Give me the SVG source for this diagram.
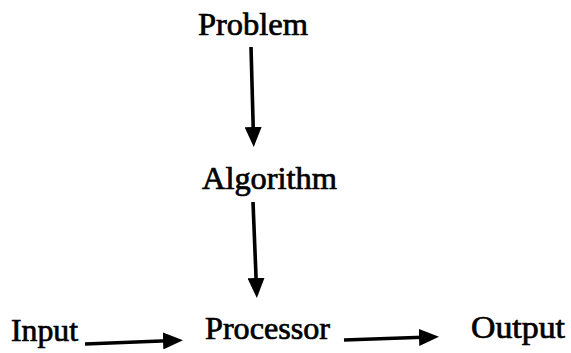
<svg xmlns="http://www.w3.org/2000/svg" width="571" height="353" viewBox="0 0 571 353">
<style>
.lbl{font-family:"Liberation Serif","Times New Roman",serif;font-size:31px;fill:#000;stroke:#000;stroke-width:0.7px}
.edge{stroke:#000;stroke-width:3.6;fill:none;stroke-linecap:butt}
</style>
<defs>
<marker id="ah" viewBox="0 0 20 17" refX="11" refY="8.5" markerWidth="20" markerHeight="17" markerUnits="userSpaceOnUse" orient="auto">
<path d="M0,0 L20,8.5 L0,17 z" fill="#000"/>
</marker>
</defs>
<rect width="571" height="353" fill="#fff"/>
<g id="connectors">
<line class="edge" x1="251" y1="47" x2="253.5" y2="138" marker-end="url(#ah)"/>
<line class="edge" x1="253" y1="202" x2="256.5" y2="289" marker-end="url(#ah)"/>
<line class="edge" x1="85" y1="344" x2="174" y2="340.5" marker-end="url(#ah)"/>
<line class="edge" x1="344" y1="340" x2="430" y2="337" marker-end="url(#ah)"/>
</g>
<g id="node-problem"><text class="lbl" x="198" y="35" textLength="110" lengthAdjust="spacingAndGlyphs">Problem</text></g>
<g id="node-algorithm"><text class="lbl" x="202" y="189" textLength="135" lengthAdjust="spacingAndGlyphs">Algorithm</text></g>
<g id="node-input"><text class="lbl" x="11" y="341" textLength="67" lengthAdjust="spacingAndGlyphs">Input</text></g>
<g id="node-processor"><text class="lbl" x="205" y="339" textLength="125" lengthAdjust="spacingAndGlyphs">Processor</text></g>
<g id="node-output"><text class="lbl" x="471" y="338" textLength="94" lengthAdjust="spacingAndGlyphs">Output</text></g>
</svg>
